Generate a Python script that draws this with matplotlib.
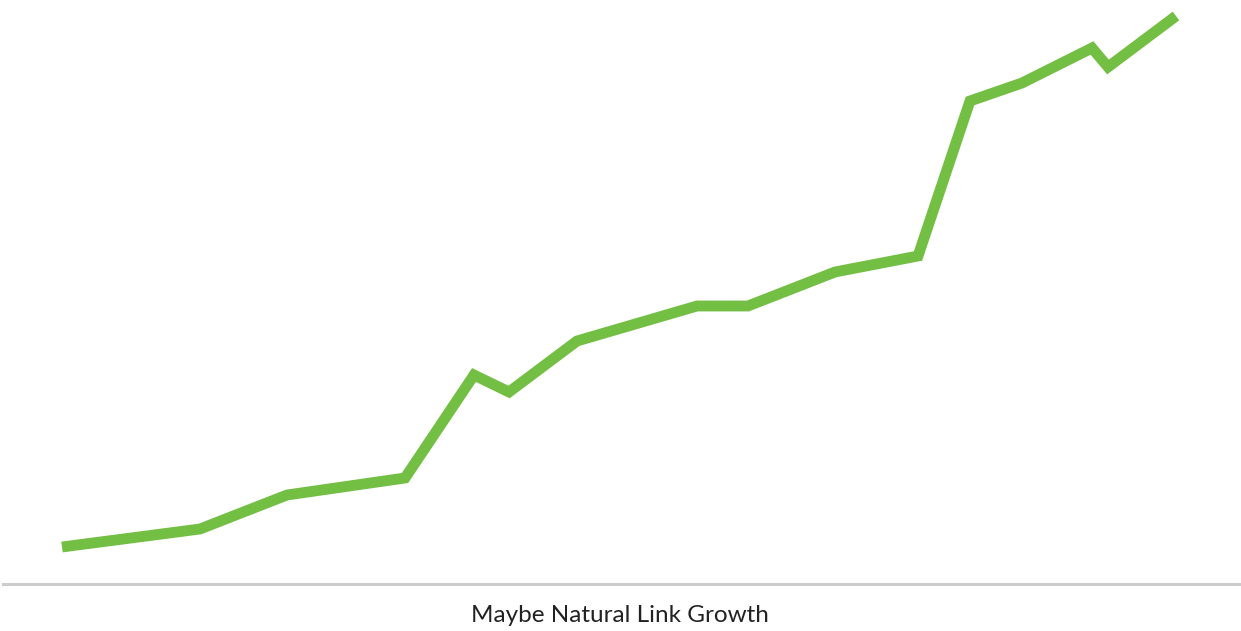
# %% Requirements and constants
import matplotlib
matplotlib.use('Agg')
import matplotlib.pyplot as plt

# x: day index, y: links above baseline
days = [62, 200, 287, 405, 474, 509, 577, 697, 748, 835, 918, 970, 1022, 1092, 1108, 1176]
links = [37, 55, 89, 106, 209, 192, 243, 278, 278, 312, 328, 483, 501, 536, 517, 568]
label = 'Maybe Natural Link Growth'

# %% Plot
plt.rcParams['font.family'] = ['Lato', 'DejaVu Sans']
fig = plt.figure(figsize=(12.41, 6.31), dpi=100)
ax = fig.add_axes([0, 0, 1, 1])
ax.plot(days, links, color='#72bf44', lw=7.8, solid_joinstyle='miter', solid_capstyle='butt')
ax.plot([3, 1241], [0, 0], color='#cccccc', lw=2.2)
ax.text(620, -31, label, ha='center', va='center', fontsize=17.5, color='#222222')
ax.set_xlim(0, 1241)
ax.set_ylim(-47, 584)
ax.axis('off')
fig.savefig('out.png', dpi=100)
